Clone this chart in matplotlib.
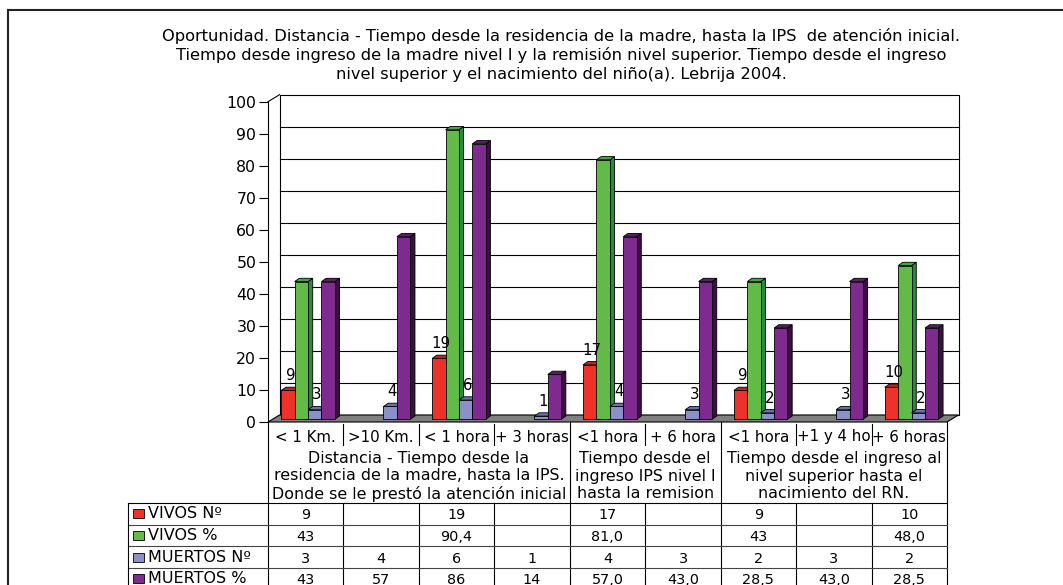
import matplotlib
matplotlib.use("Agg")
import matplotlib.pyplot as plt
from matplotlib.patches import Polygon, Rectangle
from matplotlib.lines import Line2D

# ---------------- data ----------------
title_lines = [
    "Oportunidad. Distancia - Tiempo desde la residencia de la madre, hasta la IPS  de atención inicial.",
    "Tiempo desde ingreso de la madre nivel I y la remisión nivel superior. Tiempo desde el ingreso",
    "nivel superior y el nacimiento del niño(a). Lebrija 2004.",
]
categories = ["< 1 Km.", ">10 Km.", "< 1 hora", "+ 3 horas", "<1 hora",
              "+ 6 hora", "<1 hora", "+1 y 4 ho", "+ 6 horas"]
group_labels = [
    ["Distancia - Tiempo desde la", "residencia de la madre, hasta la IPS.",
     "Donde se le prestó la atención inicial"],
    ["Tiempo desde el", "ingreso IPS nivel I", "hasta la remision"],
    ["Tiempo desde el ingreso al", "nivel superior hasta el", "nacimiento del RN."],
]
group_sizes = [4, 2, 3]
series_names = ["VIVOS Nº", "VIVOS %", "MUERTOS Nº", "MUERTOS %"]
vivos_n = ["9", "", "19", "", "17", "", "9", "", "10"]
vivos_pct = ["43", "", "90,4", "", "81,0", "", "43", "", "48,0"]
muertos_n = ["3", "4", "6", "1", "4", "3", "2", "3", "2"]
muertos_pct = ["43", "57", "86", "14", "57,0", "43,0", "28,5", "43,0", "28,5"]
series_text = [vivos_n, vivos_pct, muertos_n, muertos_pct]
labelled_series = [0, 2]
yticks = [0, 10, 20, 30, 40, 50, 60, 70, 80, 90, 100]

front_colors = ["#EE3229", "#62BB47", "#8C90C8", "#7E2A8E"]
side_colors = ["#9E1C18", "#2C8A3C", "#4F5490", "#3A1040"]
top_colors = ["#B82420", "#45A545", "#6A6FB0", "#5A1D66"]

# ---------------- layout (pixels) ----------------
W, H = 1063, 585
X0, X1 = 268, 947          # front plane of the plot / table columns
Y0, Y100 = 422, 101.7      # value 0 and 100 on the front plane
plt.rcParams["font.family"] = ["DejaVu Sans"]

def fx(px):
    return px / W

def fy(py):
    return 1 - py / H

fig = plt.figure(figsize=(W / 100, H / 100), dpi=100)
fig.patch.set_facecolor("white")

# outer chart-area border
fig.add_artist(Line2D([fx(8), fx(8)], [fy(10), fy(H + 5)], color="#222222", lw=1.5,
                      transform=fig.transFigure))
fig.add_artist(Line2D([fx(8), fx(W + 5)], [fy(10), fy(10)], color="#222222", lw=1.5,
                      transform=fig.transFigure))

# title
for k, line in enumerate(title_lines):
    fig.text(fx(561), fy(36 + 19 * k), line, ha="center", va="center", fontsize=11.7)

# ---------------- chart axes ----------------
ax = fig.add_axes([fx(X0), fy(Y0), (X1 - X0) / W, (Y0 - Y100) / H])
n = len(categories)
ax.set_xlim(-0.5, n - 0.5)
ax.set_ylim(0, 100)
ax.patch.set_visible(False)
for s in ["top", "right", "bottom"]:
    ax.spines[s].set_visible(False)
ax.spines["left"].set_linewidth(0.8)
ax.set_xticks([])
ax.set_yticks(yticks)
ax.tick_params(axis="y", direction="out", length=6.5, width=0.8, labelsize=11.3, pad=2)

px_x = n / (X1 - X0)            # data units per pixel (x)
px_y = 100 / (Y0 - Y100)        # data units per pixel (y)
DX, DY = 11.5 * px_x, 7 * px_y  # wall depth

# back wall + gridlines
ax.add_patch(Rectangle((-0.5 + DX, DY), n, 100, facecolor="white", edgecolor="black",
                       lw=0.8, zorder=0.5, clip_on=False))
for t in yticks[1:-1]:
    ax.plot([-0.5 + DX, n - 0.5 + DX], [t + DY, t + DY], color="black", lw=0.8,
            zorder=0.8, clip_on=False)
# left wall top edge
ax.plot([-0.5, -0.5 + DX], [100, 100 + DY], color="black", lw=0.8, clip_on=False, zorder=0.8)
# floor
ax.add_patch(Polygon([(-0.5, 0), (n - 0.5, 0), (n - 0.5 + DX, DY), (-0.5 + DX, DY)],
                     closed=True, facecolor="#808080", edgecolor="black", lw=0.8,
                     zorder=1, clip_on=False))

# bars
bw = 13.4 * px_x
sx = 2.3 * px_x
base = 2.7 * px_y
ddx, ddy = 4.7 * px_x, 3.3 * px_y
nser = len(series_text)
for i in range(n):
    for j in range(nser):
        s = series_text[j][i]
        if s == "":
            continue
        v = float(s.replace(",", "."))
        x0 = i + sx - nser / 2 * bw + j * bw
        z = 3 + 0.01 * (i * nser + j)
        top = base + v
        ax.add_patch(Polygon([(x0 + bw, base), (x0 + bw + ddx, base + ddy),
                              (x0 + bw + ddx, top + ddy), (x0 + bw, top)], closed=True,
                             facecolor=side_colors[j], edgecolor="black", lw=0.6, zorder=z))
        ax.add_patch(Polygon([(x0, top), (x0 + ddx, top + ddy), (x0 + bw + ddx, top + ddy),
                              (x0 + bw, top)], closed=True,
                             facecolor=top_colors[j], edgecolor="black", lw=0.6, zorder=z))
        ax.bar(x0, v, width=bw, bottom=base, align="edge", color=front_colors[j],
               edgecolor="black", lw=0.6, zorder=z)
        if j in labelled_series:
            ax.annotate(s, (x0 + bw / 2 + ddx / 2, top + ddy), xytext=(0, 5),
                        textcoords="offset points", ha="center", va="baseline",
                        fontsize=10.8, zorder=10, annotation_clip=False)

# ---------------- data table ----------------
tax = fig.add_axes([fx(X0), 0, (X1 - X0) / W, (H - Y0) / H])
tax.set_xlim(-0.5, n - 0.5)
tax.set_ylim(H - Y0, 0)
tax.axis("off")
cat_h, grp_h, row_h = 23, 58, 21.7
lab_left = -0.5 - (X0 - 128) * px_x
lc = "black"
lw = 0.8

def vline(x, y0, y1, color=lc):
    tax.plot([x, x], [y0, y1], color=color, lw=lw, clip_on=False)

def hline(y, x0, x1, color=lc):
    tax.plot([x0, x1], [y, y], color=color, lw=lw, clip_on=False)

bottom = H - Y0 + 10
# outer verticals and group boundaries
vline(-0.5, 0, bottom)
vline(n - 0.5, 0, bottom)
edges = []
acc = 0
for g in group_sizes[:-1]:
    acc += g
    edges.append(acc - 0.5)
for e in edges:
    vline(e, 0, bottom)
# separators inside the category row and in data rows
for i in range(n - 1):
    b = i + 0.5
    if b not in edges:
        vline(b, 2, cat_h)
        vline(b, cat_h + grp_h, bottom)
# horizontal lines of the data rows
for k in range(nser):
    hline(cat_h + grp_h + k * row_h, lab_left, n - 0.5,
          color="black" if k == 0 else "#444444")
vline(lab_left, cat_h + grp_h, bottom)

# category labels
for i, c in enumerate(categories):
    tax.text(i, 13.5, c, ha="center", va="center_baseline", fontsize=10.8, clip_on=False)
# group labels
start = 0
for g, lines in zip(group_sizes, group_labels):
    cx = start + (g - 1) / 2
    for k, line in enumerate(lines):
        tax.text(cx, 36.5 + 17.5 * k, line, ha="center", va="center", fontsize=11.4,
                 clip_on=False)
    start += g
# data rows
for j in range(nser):
    yc = cat_h + grp_h + (j + 0.5) * row_h
    tax.add_patch(Rectangle((-0.5 - (X0 - 133) * px_x, yc - 4.5), 11 * px_x, 9,
                            facecolor=front_colors[j], edgecolor="black", lw=0.6,
                            clip_on=False))
    tax.text(-0.5 - (X0 - 148) * px_x, yc, series_names[j], ha="left", va="center",
             fontsize=11.5, clip_on=False)
    for i in range(n):
        if series_text[j][i]:
            tax.text(i, yc, series_text[j][i], ha="center", va="center_baseline",
                     fontsize=10.4, clip_on=False)

fig.savefig("out.png", dpi=100)
